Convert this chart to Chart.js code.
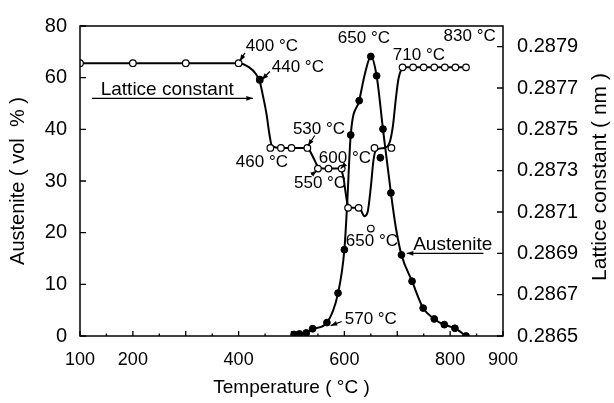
<!DOCTYPE html>
<html lang="en">
<head>
<meta charset="UTF-8">
<title>Austenite and lattice constant vs temperature</title>
<script src="https://cdn.jsdelivr.net/npm/chart.js"></script>
<style>
  body { margin: 0; background: #fff; }
  #wrap { width: 614px; height: 403px; position: relative; }
</style>
</head>
<body>
<div id="wrap"><canvas id="chart"></canvas></div>
<script>
// ---- data ----
// lattice constant measurements (open circles)
const latticeT  = [100, 200, 300, 400, 440, 460, 480, 500, 530, 550, 570, 595, 607, 627, 650, 657, 689, 710, 730, 750, 770, 790, 810, 830];
const latticeNm = [0.28782, 0.28782, 0.28782, 0.28782, 0.28774, 0.28741, 0.28741, 0.28741, 0.28741, 0.28731, 0.28731, 0.28731,
                   0.28712, 0.28712, 0.28702, 0.28741, 0.28741, 0.28780, 0.28780, 0.28780, 0.28780, 0.28780, 0.28780, 0.28780];
const latticeFilledT = [440];
// fitted lattice curve
const latticeCurveT  = [100, 200, 300, 400, 420, 432, 440, 447, 453, 458, 463, 480, 530, 540, 550, 560, 590, 598, 602, 606, 615, 628,
                        638, 644, 650, 655, 660, 675, 686, 692, 697, 702, 708, 715, 830];
const latticeCurveNm = [0.28782, 0.28782, 0.28782, 0.28782, 0.28780, 0.28777, 0.28773, 0.28765, 0.28757, 0.28748, 0.28742, 0.28741,
                        0.28741, 0.28737, 0.28732, 0.28731, 0.28731, 0.28727, 0.28720, 0.28714, 0.28712, 0.28712,
                        0.28708, 0.28710, 0.28722, 0.28735, 0.28740, 0.28741, 0.28744, 0.28752, 0.28764, 0.28774, 0.28779, 0.28780, 0.28780];
// austenite measurements (filled circles), vol %
const austT   = [505, 515, 528, 540, 567, 588, 600, 612, 628, 650, 661, 668, 673, 688, 708, 728, 749, 770, 789, 809, 830];
const austVol = [0.3, 0.4, 0.6, 1.4, 2.6, 8.3, 16.7, 38.9, 51.1, 68.2, 60.7, 34.5, 40.1, 27.7, 15.7, 10.6, 5.4, 3.3, 2.2, 1.5, 0];
// fitted austenite curve
const austCurveT   = [500, 516, 542, 567, 588, 600, 605, 612, 628, 639, 650, 661, 673, 688, 697, 708, 728, 749, 770, 788, 809, 830];
const austCurveVol = [0, 0.2, 1.4, 2.6, 8.3, 16.7, 25, 38.9, 51.1, 61.6, 68.2, 60.7, 40.1, 27.7, 21.2, 15.7, 10.6, 5.4, 3.3, 2.2, 1.5, 0];

// axis ticks
const austTickLabels = [0, 10, 20, 30, 40, 60, 80];     // evenly spaced on the figure
const latticeTicks   = [0.2865, 0.2867, 0.2869, 0.2871, 0.2873, 0.2875, 0.2877, 0.2879];
const tempTickLabels = [100, 200, 400, 600, 800, 900];

// labels on the plot: [text, T, lattice nm, font size] and arrows [T1, nm1, T2, nm2]
const notes = [
  ['400 °C', 463, 0.28790, 17], ['440 °C', 512, 0.28780, 17], ['Lattice constant', 265, 0.28769, 19],
  ['460 °C', 444, 0.28734, 17], ['530 °C', 552, 0.28750, 17], ['550 °C', 554, 0.28724, 17],
  ['600 °C', 601, 0.28736, 17], ['650 °C', 637, 0.28794, 17], ['710 °C', 741, 0.28786, 17],
  ['830 °C', 837, 0.28795, 17], ['650 °C', 652, 0.28696, 17], ['Austenite', 805, 0.28694, 19],
  ['570 °C', 650, 0.28658, 17]
];
const arrows = [
  [412, 0.28787, 402, 0.28783], [459, 0.28778, 444, 0.28774], [123, 0.28765, 427, 0.28765],
  [544, 0.28747, 531, 0.28742], [538, 0.28728, 548, 0.28730], [601, 0.28733, 593, 0.28731],
  [863, 0.28690, 718, 0.28690], [595, 0.28657, 574, 0.28655]
];

// the left axis is drawn with evenly spaced ticks 0,10,20,30,40,60,80
function toAustAxis(v) {
  const L = austTickLabels;
  for (let i = 0; i < L.length - 1; i++) {
    if (v <= L[i + 1]) return i + (v - L[i]) / (L[i + 1] - L[i]);
  }
  return L.length - 1;
}

const FONT = "'Liberation Sans', Arial, sans-serif";

const decorPlugin = {
  id: 'decor',
  afterDatasetsDraw(chart) {
    const { ctx, chartArea: a, scales } = chart;
    const xs = scales.x, ys = scales.y, y2 = scales.y2;
    ctx.save();
    ctx.strokeStyle = '#000';
    ctx.fillStyle = '#000';

    // frame
    ctx.lineWidth = 1.5;
    ctx.strokeRect(a.left, a.top, a.right - a.left, a.bottom - a.top);

    // inward tick marks
    ctx.lineWidth = 1.3;
    ctx.beginPath();
    xs.ticks.forEach(t => {
      const px = xs.getPixelForValue(t.value);
      const len = t.value % 100 === 0 ? 5 : 2.5;
      ctx.moveTo(px, a.bottom); ctx.lineTo(px, a.bottom - len);
    });
    ys.ticks.forEach(t => {
      const py = ys.getPixelForValue(t.value);
      ctx.moveTo(a.left, py); ctx.lineTo(a.left + 6, py);
    });
    y2.ticks.forEach(t => {
      const py = y2.getPixelForValue(t.value);
      ctx.moveTo(a.right, py); ctx.lineTo(a.right - 6, py);
    });
    ctx.stroke();

    // notes
    ctx.textAlign = 'center';
    ctx.textBaseline = 'middle';
    notes.forEach(([txt, t, v, size]) => {
      ctx.font = size + 'px ' + FONT;
      ctx.fillText(txt, xs.getPixelForValue(t), y2.getPixelForValue(v));
    });

    // arrows
    ctx.lineWidth = 1.2;
    arrows.forEach(([t1, v1, t2, v2]) => {
      const x1 = xs.getPixelForValue(t1), yA = y2.getPixelForValue(v1);
      const x2 = xs.getPixelForValue(t2), yB = y2.getPixelForValue(v2);
      const ang = Math.atan2(yB - yA, x2 - x1);
      ctx.beginPath();
      ctx.moveTo(x1, yA); ctx.lineTo(x2, yB);
      ctx.stroke();
      ctx.beginPath();
      ctx.moveTo(x2, yB);
      ctx.lineTo(x2 - 7 * Math.cos(ang - 0.35), yB - 7 * Math.sin(ang - 0.35));
      ctx.lineTo(x2 - 7 * Math.cos(ang + 0.35), yB - 7 * Math.sin(ang + 0.35));
      ctx.closePath();
      ctx.fill();
    });

    // axis titles
    ctx.font = '20px ' + FONT;
    const midY = (a.top + a.bottom) / 2;
    ctx.save();
    ctx.translate(18, midY);
    ctx.rotate(-Math.PI / 2);
    ctx.fillText('Austenite ( vol  % )', 0, 0);
    ctx.restore();
    ctx.save();
    ctx.translate(600, midY - 4);
    ctx.rotate(-Math.PI / 2);
    ctx.font = '21px ' + FONT;
    ctx.fillText('Lattice constant ( nm )', 0, 0);
    ctx.restore();
    ctx.font = '19px ' + FONT;
    ctx.fillText('Temperature ( °C )', (a.left + a.right) / 2, 388);
    ctx.restore();
  }
};

const toXY = (xs, ys, f) => xs.map((x, i) => ({ x: x, y: f ? f(ys[i]) : ys[i] }));

new Chart(document.getElementById('chart'), {
  type: 'line',
  data: {
    datasets: [
      {
        label: 'Lattice points',
        data: toXY(latticeT, latticeNm),
        yAxisID: 'y2',
        showLine: false,
        pointRadius: 3.3,
        pointBorderWidth: 1.2,
        pointBorderColor: '#000',
        pointBackgroundColor: c => latticeFilledT.includes(c.raw && c.raw.x) ? '#000' : '#fff'
      },
      {
        label: 'Austenite points',
        data: toXY(austT, austVol, toAustAxis),
        yAxisID: 'y',
        showLine: false,
        pointRadius: 3.4,
        pointBorderWidth: 1,
        pointBorderColor: '#000',
        pointBackgroundColor: '#000'
      },
      {
        label: 'Lattice constant',
        data: toXY(latticeCurveT, latticeCurveNm),
        yAxisID: 'y2',
        borderColor: '#000',
        borderWidth: 2,
        pointRadius: 0,
        cubicInterpolationMode: 'monotone'
      },
      {
        label: 'Austenite',
        data: toXY(austCurveT, austCurveVol, toAustAxis),
        yAxisID: 'y',
        borderColor: '#000',
        borderWidth: 2,
        pointRadius: 0,
        cubicInterpolationMode: 'monotone'
      }
    ]
  },
  options: {
    responsive: true,
    maintainAspectRatio: false,
    animation: false,
    layout: { padding: { top: 22, left: 0, right: 0, bottom: 0 } },
    plugins: { legend: { display: false }, tooltip: { enabled: false } },
    scales: {
      x: {
        type: 'linear',
        min: 100, max: 900,
        grid: { display: false, drawTicks: false },
        border: { display: false },
        afterBuildTicks: s => {
          const t = [];
          for (let v = 100; v <= 900; v += 50) t.push({ value: v });
          s.ticks = t;
        },
        ticks: {
          autoSkip: false, maxRotation: 0, padding: 13, color: '#000',
          font: { family: FONT, size: 18 },
          callback: v => tempTickLabels.includes(v) ? String(v) : ''
        },
        afterFit: s => { s.height = 67; }
      },
      y: {
        type: 'linear',
        position: 'left',
        min: 0, max: austTickLabels.length - 1,
        grid: { display: false, drawTicks: false },
        border: { display: false },
        afterBuildTicks: s => { s.ticks = austTickLabels.map((_, i) => ({ value: i })); },
        ticks: {
          padding: 13, color: '#000',
          font: { family: FONT, size: 20 },
          callback: v => String(austTickLabels[v])
        },
        afterFit: s => { s.width = 80; }
      },
      y2: {
        type: 'linear',
        position: 'right',
        min: 0.2865, max: 0.2880,
        grid: { display: false, drawTicks: false },
        border: { display: false },
        afterBuildTicks: s => { s.ticks = latticeTicks.map(v => ({ value: v })); },
        ticks: {
          padding: 14, color: '#000',
          font: { family: FONT, size: 20 },
          callback: v => v.toFixed(4)
        },
        afterFit: s => { s.width = 111; }
      }
    }
  },
  plugins: [decorPlugin]
});
</script>
</body>
</html>
